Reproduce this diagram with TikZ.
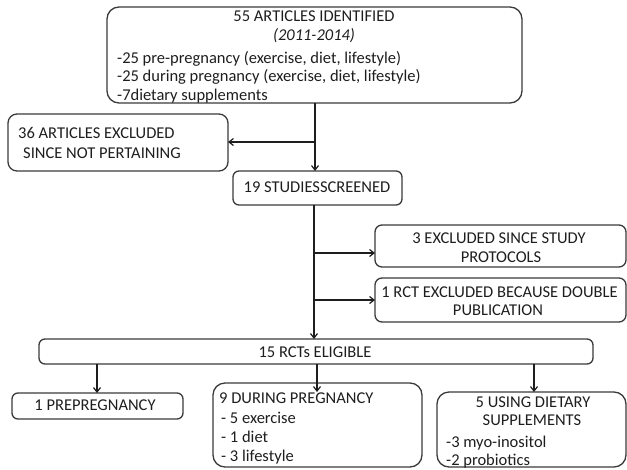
\documentclass[tikz,border=0pt]{standalone}
\usepackage{fontspec}
\setmainfont{Carlito}
\usetikzlibrary{arrows.meta}
\definecolor{boxgray}{HTML}{3A3A3A}
\definecolor{txt}{HTML}{1E1E1E}
\begin{document}
\begin{tikzpicture}[x=1pt,y=-1pt,
  box/.style={draw=boxgray, line width=1.3pt, inner sep=0pt, outer sep=0pt, rounded corners=#1},
  box/.default=7pt,
  tx/.style={inner sep=0pt, text=txt, font=\fontsize{16.5}{19.5}\selectfont},
  arr/.style={draw=txt, line width=1.2pt, -{Straight Barb[length=4.5pt,width=7pt]}},
  ln/.style={draw=txt, line width=1.2pt}]
\useasboundingbox (0,0) rectangle (627,469);
% boxes
\node[box=12pt, minimum width=415pt, minimum height=96pt] (b1) at (314.5,55) {};
\node[box=9pt, minimum width=220pt, minimum height=57pt] (b36) at (118,142.5) {};
\node[box=6pt, minimum width=169pt, minimum height=34pt] (b19) at (317.5,188) {};
\node[box=7pt, minimum width=251pt, minimum height=42pt] (b3) at (500.5,246) {};
\node[box=7pt, minimum width=251pt, minimum height=44pt] (b4) at (500.5,300) {};
\node[box=6pt, minimum width=554pt, minimum height=25pt] (b15) at (316,351.5) {};
\node[box=6pt, minimum width=171pt, minimum height=26pt] (b1p) at (97.5,406) {};
\node[box=12pt, minimum width=209pt, minimum height=84pt] (b9) at (317.5,425) {};
\node[box=12pt, minimum width=189pt, minimum height=75pt] (b5) at (531.5,429.5) {};
% texts
\node[tx, anchor=base] (t1a) at (314,21.5) {55 ARTICLES IDENTIFIED};
\node[tx, anchor=base] (t1b) at (314,40.5) {\itshape (2011-2014)};
\node[tx, anchor=base west] (t1c) at (117,63) {-25 pre-pregnancy (exercise, diet, lifestyle)};
\node[tx, anchor=base west] (t1d) at (117,81.5) {-25 during pregnancy (exercise, diet, lifestyle)};
\node[tx, anchor=base west] (t1e) at (117,100) {-7dietary supplements};
\node[tx, anchor=base west] (t36a) at (18,138.5) {36 ARTICLES EXCLUDED};
\node[tx, anchor=base west] (t36b) at (23,158.5) {SINCE NOT PERTAINING};
\node[tx, anchor=base] (t19) at (317,192.5) {19 STUDIESSCREENED};
\node[tx, anchor=base] (t3a) at (499,243.5) {3 EXCLUDED SINCE STUDY};
\node[tx, anchor=base] (t3b) at (501,262.5) {PROTOCOLS};
\node[tx, anchor=base] (t4a) at (499.5,297.5) {1 RCT EXCLUDED BECAUSE DOUBLE};
\node[tx, anchor=base] (t4b) at (498,315.5) {PUBLICATION};
\node[tx, anchor=base] (t15) at (315,357.5) {15 RCTs ELIGIBLE};
\node[tx, anchor=base] (t1p) at (95,410.5) {1 PREPREGNANCY};
\node[tx, anchor=base west] (t9a) at (219,403.5) {9 DURING PREGNANCY};
\node[tx, anchor=base west] (t9b) at (221,423.5) {- 5 exercise};
\node[tx, anchor=base west] (t9c) at (221,442.5) {- 1 diet};
\node[tx, anchor=base west] (t9d) at (221,461) {- 3 lifestyle};
\node[tx, anchor=base] (t5a) at (533,407.5) {5 USING DIETARY};
\node[tx, anchor=base] (t5b) at (532,425.5) {SUPPLEMENTS};
\node[tx, anchor=base west] (t5c) at (446,447.5) {-3 myo-inositol};
\node[tx, anchor=base west] (t5d) at (446,465.5) {-2 probiotics};
% junctions
\coordinate (j1) at (315,142);
\coordinate (j2) at (314,253);
\coordinate (j3) at (314,300);
\coordinate (e9) at (317,392);
\coordinate (x1p) at (97,0);
\coordinate (x5) at (534,0);
% connectors
\draw[arr] (b1.south -| j1) -- (b19.north -| j1);
\draw[arr] (j1) -- (b36.east |- j1);
\draw[arr] (b19.south -| j2) -- (b15.north -| j2);
\draw[arr] (j2) -- (b3.west |- j2);
\draw[arr] (j3) -- (b4.west |- j3);
\draw[arr] (b15.south -| x1p) -- (b1p.north -| x1p);
\draw[arr] (b15.south -| e9) -- (e9);
\draw[arr] (b15.south -| x5) -- (b5.north -| x5);
\end{tikzpicture}
\end{document}
